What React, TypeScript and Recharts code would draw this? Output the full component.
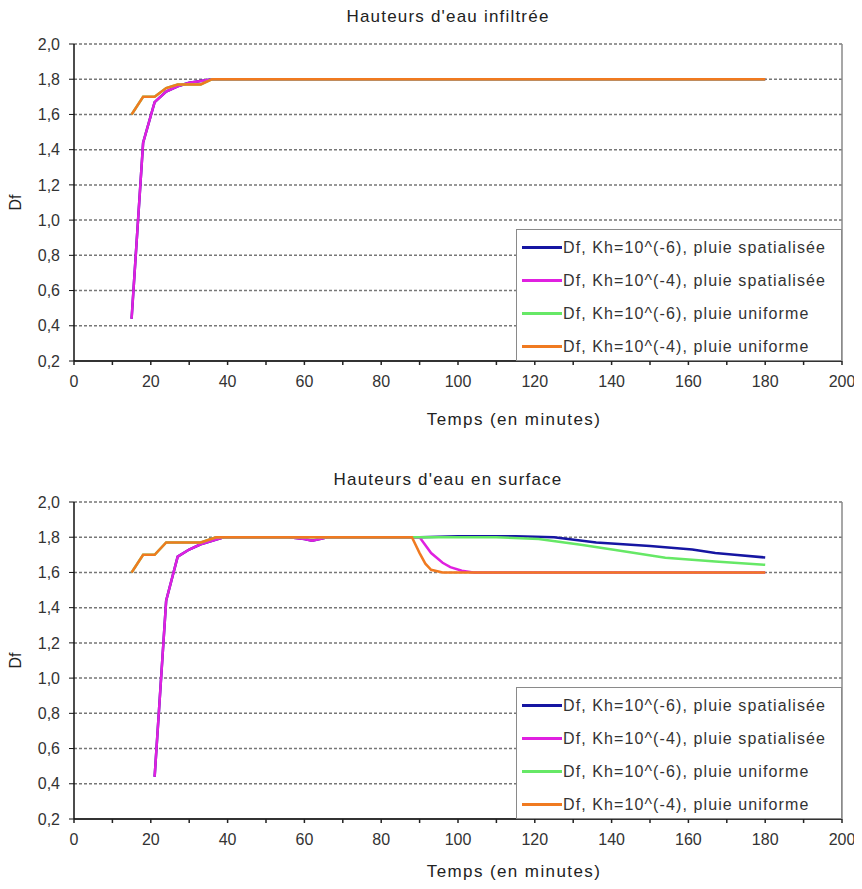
import { LineChart, Line, XAxis, YAxis, CartesianGrid, Legend, ReferenceLine } from "recharts";

// time ticks every 10 min, labels every 20
const xTicks = [0, 10, 20, 30, 40, 50, 60, 70, 80, 90, 100, 110, 120, 130, 140, 150, 160, 170, 180, 190, 200];
const yTicks = [0.2, 0.4, 0.6, 0.8, 1.0, 1.2, 1.4, 1.6, 1.8, 2.0];

const seriesNames = [
  "Df, Kh=10^(-6), pluie spatialisée",
  "Df, Kh=10^(-4), pluie spatialisée",
  "Df, Kh=10^(-6), pluie uniforme",
  "Df, Kh=10^(-4), pluie uniforme",
];
const seriesColors = ["#1616a2", "#e020e0", "#66e866", "#f07a20"];

// Hauteurs d'eau infiltrée
const infSpatialT = [15, 18, 21, 24, 27, 30, 33, 36, 180];
const infSpatial6 = [0.44, 1.44, 1.67, 1.73, 1.76, 1.78, 1.79, 1.8, 1.8];
const infSpatial4 = [0.44, 1.44, 1.67, 1.73, 1.76, 1.78, 1.79, 1.8, 1.8];
const infUniformT = [15, 18, 21, 24, 27, 33, 36, 180];
const infUniform6 = [1.6, 1.7, 1.7, 1.75, 1.77, 1.77, 1.8, 1.8];
const infUniform4 = [1.6, 1.7, 1.7, 1.75, 1.77, 1.77, 1.8, 1.8];

// Hauteurs d'eau en surface
const surfBlueT = [21, 24, 27, 30, 33, 36, 39, 56, 60, 62, 64, 66, 90, 100, 115, 125, 136, 150, 161, 167, 172, 180];
const surfBlue = [0.44, 1.44, 1.69, 1.73, 1.76, 1.78, 1.8, 1.8, 1.79, 1.78, 1.79, 1.8, 1.8, 1.805, 1.805, 1.8, 1.77, 1.75, 1.73, 1.71, 1.7, 1.685];
const surfMagentaT = [21, 24, 27, 30, 33, 36, 39, 56, 60, 62, 64, 66, 90, 93, 96, 98, 101, 104, 180];
const surfMagenta = [0.44, 1.44, 1.69, 1.73, 1.76, 1.78, 1.8, 1.8, 1.79, 1.78, 1.79, 1.8, 1.8, 1.71, 1.655, 1.63, 1.61, 1.6, 1.6];
const surfGreenT = [15, 18, 21, 24, 33, 37, 110, 121, 132, 141, 154, 167, 180];
const surfGreen = [1.6, 1.7, 1.7, 1.77, 1.77, 1.8, 1.8, 1.79, 1.757, 1.728, 1.683, 1.662, 1.643];
const surfOrangeT = [15, 18, 21, 24, 33, 37, 88, 90, 91.5, 93, 96, 180];
const surfOrange = [1.6, 1.7, 1.7, 1.77, 1.77, 1.8, 1.8, 1.71, 1.65, 1.615, 1.6, 1.6];

const pts = (t: number[], v: number[]) => t.map((tt, i) => ({ t: tt, v: v[i] }));

const XTick = (props: any) => {
  const { x, y, payload } = props;
  const major = payload.value % 20 === 0;
  return (
    <g>
      <line x1={x} x2={x} y1={y} y2={y + 4} stroke="#222" strokeWidth={1.5} />
      {major && (
        <text x={x} y={y + 15} dy="0.71em" textAnchor="middle" fontSize={16} fill="#333">
          {payload.value}
        </text>
      )}
    </g>
  );
};

const renderLegend = (props: any) => {
  const items = [...props.payload].sort(
    (a: any, b: any) => seriesNames.indexOf(a.value) - seriesNames.indexOf(b.value)
  );
  return (
    <div
      style={{
        width: 326,
        height: 132,
        boxSizing: "border-box",
        border: "1.5px solid #8a8a8a",
        background: "#fff",
        paddingTop: 1,
        paddingLeft: 5,
      }}
    >
      {items.map((e: any) => (
        <div
          key={e.value}
          style={{ display: "flex", alignItems: "center", height: 33, fontSize: 16, letterSpacing: 1.1, color: "#333", whiteSpace: "nowrap" }}
        >
          <span style={{ display: "inline-block", width: 40, height: 3, background: e.color, marginRight: 1 }} />
          <span>{e.value}</span>
        </div>
      ))}
    </div>
  );
};

type PanelProps = {
  title: string;
  height: number;
  top: number;
  titleTop: number;
  data: { t: number; v: number }[][];
  labelOffset: number;
};

const Panel = ({ title, height, top, titleTop, data, labelOffset }: PanelProps) => (
  <div style={{ position: "relative", width: 862, height }}>
    <div
      style={{
        position: "absolute",
        top: titleTop,
        left: 64,
        width: 768,
        textAlign: "center",
        fontSize: 17,
        letterSpacing: 1.2,
        color: "#222",
        zIndex: 1,
      }}
    >
      {title}
    </div>
    <LineChart width={862} height={height} margin={{ top, right: 20, left: 14, bottom: height - top - 317 - 30 }}>
      <CartesianGrid horizontal vertical={false} stroke="#777" strokeDasharray="3 2" strokeWidth={1.5} />
      <XAxis
        dataKey="t"
        type="number"
        domain={[0, 200]}
        ticks={xTicks}
        interval={0}
        height={30}
        tickSize={0}
        tickMargin={0}
        tick={<XTick />}
        axisLine={{ stroke: "#333", strokeWidth: 2 }}
        label={{
          value: "Temps (en minutes)",
          position: "bottom",
          offset: labelOffset,
          dx: 56,
          fontSize: 17,
          letterSpacing: 1.4,
          fill: "#222",
        }}
      />
      <YAxis
        type="number"
        domain={[0.2, 2.0]}
        ticks={yTicks}
        interval={0}
        width={60}
        tickSize={5}
        tickMargin={9}
        tick={{ fontSize: 16, fill: "#333" }}
        tickLine={{ stroke: "#111" }}
        axisLine={{ stroke: "#111", strokeWidth: 1.5 }}
        tickFormatter={(v: number) => v.toFixed(1).replace(".", ",")}
        label={{ value: "Df", angle: -90, position: "center", dx: -29, fontSize: 16, fill: "#222" }}
      />
      <ReferenceLine x={200} stroke="#8a8a8a" strokeWidth={1.5} />
      {data.map((d, i) => (
        <Line
          key={seriesNames[i]}
          data={d}
          dataKey="v"
          name={seriesNames[i]}
          type="linear"
          stroke={seriesColors[i]}
          strokeWidth={2.5}
          dot={false}
          isAnimationActive={false}
        />
      ))}
      <Legend
        layout="vertical"
        align="center"
        verticalAlign="middle"
        wrapperStyle={{ left: 516, top: top + 317 - 132, width: 326 }}
        content={renderLegend}
      />
    </LineChart>
  </div>
);

export default function App() {
  return (
    <div style={{ margin: "-8px 0 0 -8px", fontFamily: "'Liberation Sans', Arial, sans-serif", background: "#fff", width: 862 }}>
      <Panel
        title="Hauteurs d'eau infiltrée"
        height={457}
        top={44}
        titleTop={7}
        labelOffset={22}
        data={[
          pts(infSpatialT, infSpatial6),
          pts(infSpatialT, infSpatial4),
          pts(infUniformT, infUniform6),
          pts(infUniformT, infUniform4),
        ]}
      />
      <Panel
        title="Hauteurs d'eau en surface"
        height={432}
        top={45}
        titleTop={13}
        labelOffset={16}
        data={[
          pts(surfBlueT, surfBlue),
          pts(surfMagentaT, surfMagenta),
          pts(surfGreenT, surfGreen),
          pts(surfOrangeT, surfOrange),
        ]}
      />
    </div>
  );
}
